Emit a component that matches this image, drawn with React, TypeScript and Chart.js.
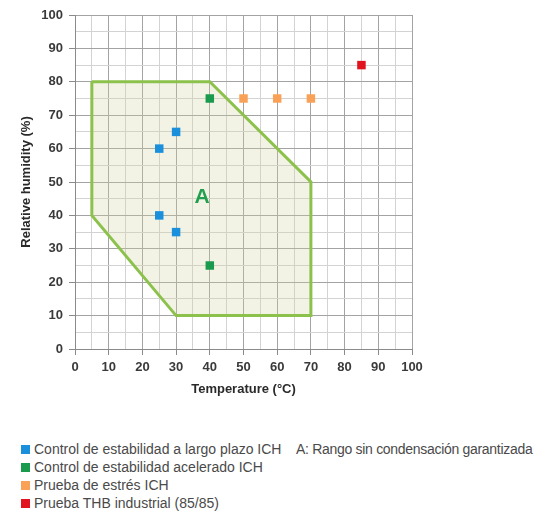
import React, { useEffect, useRef } from "react";
import { Chart, registerables } from "chart.js";

Chart.register(...registerables);

// Region A (non-condensing range) outline, in order, closed
const regionTemp = [5, 40, 70, 70, 30, 5, 5];
const regionRH = [80, 80, 50, 10, 10, 40, 80];

// Test condition points
const longTermTemp = [25, 30, 25, 30];
const longTermRH = [60, 65, 40, 35];
const acceleratedTemp = [40, 40];
const acceleratedRH = [75, 25];
const stressTemp = [50, 60, 70];
const stressRH = [75, 75, 75];
const thbTemp = [85];
const thbRH = [85];

const regionLabel = "A";
const regionLabelPos = { x: 37.7, y: 45.3 };

const legendItems = [
  { label: "Control de estabilidad a largo plazo ICH", color: "#1a8fdc" },
  { label: "Control de estabilidad acelerado ICH", color: "#1a9a4c" },
  { label: "Prueba de estrés ICH", color: "#f9a257" },
  { label: "Prueba THB industrial (85/85)", color: "#e0131f" },
];
const legendNote = "A: Rango sin condensación garantizada";

const toXY = (xs: number[], ys: number[]) => xs.map((x, i) => ({ x, y: ys[i] }));

const MAJOR = "#a3a3a3";
const MINOR = "#d3d3d3";
const FONT = "'Liberation Sans', Arial, sans-serif";

export default function App() {
  const canvasRef = useRef<HTMLCanvasElement | null>(null);

  useEffect(() => {
    if (!canvasRef.current) return;

    const labelPlugin = {
      id: "regionLabel",
      afterDatasetsDraw(chart: any) {
        const { ctx, scales } = chart;
        const px = scales.x.getPixelForValue(regionLabelPos.x);
        const py = scales.y.getPixelForValue(regionLabelPos.y);
        ctx.save();
        ctx.font = `bold 21px ${FONT}`;
        ctx.fillStyle = "#22a04f";
        ctx.textAlign = "center";
        ctx.textBaseline = "middle";
        ctx.fillText(regionLabel, px, py);
        ctx.restore();
      },
    };

    const pointDs = (data: any[], color: string) => ({
      data,
      backgroundColor: color,
      borderColor: color,
      borderWidth: 0,
      pointStyle: "rect",
      pointRadius: 6,
      pointHoverRadius: 6,
      order: 1,
    });

    const gridColor = (c: any) => (c.tick && c.tick.value % 10 === 0 ? MAJOR : MINOR);
    const tickColor = (c: any) => (c.tick && c.tick.value % 10 === 0 ? "#8a8a8a" : "rgba(0,0,0,0)");

    const chart = new Chart(canvasRef.current, {
      type: "scatter",
      data: {
        datasets: [
          pointDs(toXY(longTermTemp, longTermRH), legendItems[0].color),
          pointDs(toXY(acceleratedTemp, acceleratedRH), legendItems[1].color),
          pointDs(toXY(stressTemp, stressRH), legendItems[2].color),
          pointDs(toXY(thbTemp, thbRH), legendItems[3].color),
          {
            data: toXY(regionTemp, regionRH),
            showLine: true,
            fill: "shape",
            backgroundColor: "rgba(211,211,160,0.27)",
            borderColor: "#8cc24c",
            borderWidth: 3,
            borderJoinStyle: "miter",
            pointRadius: 0,
            pointHoverRadius: 0,
            tension: 0,
            order: 10,
          } as any,
        ],
      },
      options: {
        animation: false,
        responsive: true,
        maintainAspectRatio: false,
        layout: { padding: { left: 15, right: 129, top: 15, bottom: 0 } },
        plugins: {
          legend: { display: false },
          tooltip: { enabled: false },
        },
        scales: {
          x: {
            type: "linear",
            min: 0,
            max: 100,
            afterFit: (s: any) => {
              s.height = 52;
            },
            ticks: {
              stepSize: 5,
              autoSkip: false,
              maxRotation: 0,
              padding: 5,
              color: "#3a3a3a",
              font: { family: FONT, size: 13, weight: "bold" },
              callback: (v: any) => (Number(v) % 10 === 0 ? String(v) : ""),
            },
            grid: { color: gridColor, tickColor, tickLength: 6, lineWidth: 1 },
            border: { color: "#8a8a8a", width: 1 },
            title: {
              display: true,
              text: "Temperature (°C)",
              color: "#2a2a2a",
              font: { family: FONT, size: 13, weight: "bold" },
              padding: 4,
            },
          },
          y: {
            type: "linear",
            min: 0,
            max: 100,
            afterFit: (s: any) => {
              s.width = 60;
            },
            ticks: {
              stepSize: 5,
              autoSkip: false,
              padding: 6,
              color: "#3a3a3a",
              font: { family: FONT, size: 13, weight: "bold" },
              callback: (v: any) => (Number(v) % 10 === 0 ? String(v) : ""),
            },
            grid: { color: gridColor, tickColor, tickLength: 6, lineWidth: 1 },
            border: { color: "#8a8a8a", width: 1 },
            title: {
              display: true,
              text: "Relative humidity (%)",
              color: "#2a2a2a",
              font: { family: FONT, size: 13, weight: "bold" },
              padding: 4,
            },
          },
        },
      } as any,
      plugins: [labelPlugin],
    });

    return () => chart.destroy();
  }, []);

  const rowTop = 440;
  const rowH = 18;

  return (
    <div style={{ position: "absolute", left: 0, top: 0, width: 541, height: 515, background: "#fff" }}>
      <div style={{ position: "absolute", left: 0, top: 0, width: 541, height: 401 }}>
        <canvas ref={canvasRef} />
      </div>
      {legendItems.map((item, i) => (
        <div
          key={item.label}
          style={{
            position: "absolute",
            left: 21,
            top: rowTop + i * rowH,
            height: rowH,
            display: "flex",
            alignItems: "center",
            fontFamily: FONT,
            fontSize: 14,
            color: "#4a4a4a",
            whiteSpace: "nowrap",
          }}
        >
          <span style={{ display: "inline-block", width: 9, height: 9, background: item.color, marginRight: 4 }} />
          <span>{item.label}</span>
        </div>
      ))}
      <div
        style={{
          position: "absolute",
          left: 296,
          top: rowTop,
          height: rowH,
          display: "flex",
          alignItems: "center",
          fontFamily: FONT,
          fontSize: 14,
          letterSpacing: "-0.3px",
          color: "#4a4a4a",
          whiteSpace: "nowrap",
        }}
      >
        {legendNote}
      </div>
    </div>
  );
}
